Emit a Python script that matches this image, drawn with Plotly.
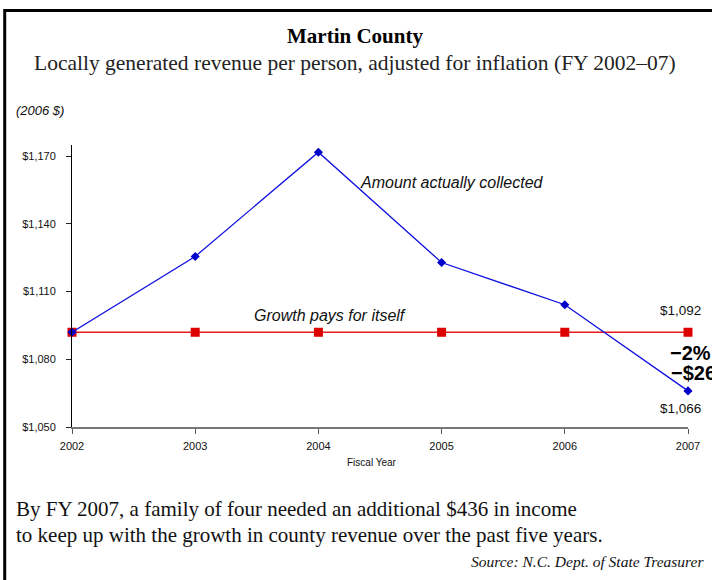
import plotly.graph_objects as go

years = [2002, 2003, 2004, 2005, 2006, 2007]
collected = [1092, 1125.6, 1171.8, 1122.9, 1104.2, 1066]
growth = [1092, 1092, 1092, 1092, 1092, 1092]
y_ticks = [1050, 1080, 1110, 1140, 1170]

W, H = 712, 580
L, R, T, B = 72, 22, 145, 153
pw, ph = W - L - R, H - T - B

def px(x):
    return (x - L) / pw

def py(y):
    return (H - B - y) / ph

fig = go.Figure()
fig.add_trace(go.Scatter(x=years, y=growth, mode="lines+markers",
                         line=dict(color="#E8191C", width=1.3),
                         marker=dict(symbol="square", size=9, color="#DD0000"),
                         hoverinfo="skip", showlegend=False, cliponaxis=False))
fig.add_trace(go.Scatter(x=years, y=collected, mode="lines+markers",
                         line=dict(color="#1010E0", width=1.3),
                         marker=dict(symbol="diamond", size=7, color="#0000CC"),
                         hoverinfo="skip", showlegend=False, cliponaxis=False))

serif = "Liberation Serif"
sans = "Liberation Sans"
ann = []
def A(text, x, y, xa="left", size=12, family=sans, color="#111"):
    ann.append(dict(text=text, x=px(x), y=py(y), xref="paper", yref="paper",
                    xanchor=xa, yanchor="middle", showarrow=False,
                    font=dict(family=family, size=size, color=color)))

A("<b>Martin County</b>", 356, 36, "center", 21, serif, "#000")
A("Locally generated revenue per person, adjusted for inflation (FY 2002–07)", 356, 63, "center", 21.5, serif, "#222")
A("<i>(2006 $)</i>", 14, 110, "left", 13)
A("<i>Amount actually collected</i>", 359, 182, "left", 16)
A("<i>Growth pays for itself</i>", 253, 315, "left", 16)
A("$1,092", 682, 310, "center", 13.5)
A("$1,066", 682, 408, "center", 13.5)
A("<b>−2%</b>", 670, 353, "left", 20, sans, "#000")
A("<b>−$26</b>", 671, 373, "left", 20, sans, "#000")
A("Fiscal Year", 373, 462, "center", 10)
A("By FY 2007, a family of four needed an additional $436 in income", 14, 509, "left", 21, serif, "#111")
A("to keep up with the growth in county revenue over the past five years.", 14, 535, "left", 21, serif, "#111")
A("<i>Source: N.C. Dept. of State Treasurer</i>", 708, 561, "right", 15.5, serif, "#111")

fig.update_layout(
    width=W, height=H, margin=dict(l=L, r=R, t=T, b=B),
    paper_bgcolor="white", plot_bgcolor="white",
    annotations=ann,
    shapes=[dict(type="rect", xref="paper", yref="paper",
                 x0=px(4.5), x1=px(740), y0=py(620), y1=py(10.5),
                 line=dict(color="black", width=3), fillcolor="rgba(0,0,0,0)")],
    xaxis=dict(range=[2002, 2007], tickvals=years, ticktext=[str(y) for y in years],
               showgrid=False, zeroline=False, showline=True, linecolor="#777", linewidth=2,
               ticks="outside", ticklen=5, tickcolor="#555", ticklabelstandoff=3,
               tickfont=dict(family=sans, size=11, color="#111")),
    yaxis=dict(range=[1050, 1175], tickvals=y_ticks,
               ticktext=["$" + format(v, ",") for v in y_ticks],
               showgrid=False, zeroline=False, showline=True, linecolor="black", linewidth=1,
               ticks="outside", ticklen=5, tickcolor="#222", ticklabelstandoff=8,
               tickfont=dict(family=sans, size=11, color="#111")),
)
fig.write_html("out.html", config={"displayModeBar": False},
               post_script="document.body.style.margin='0';")
